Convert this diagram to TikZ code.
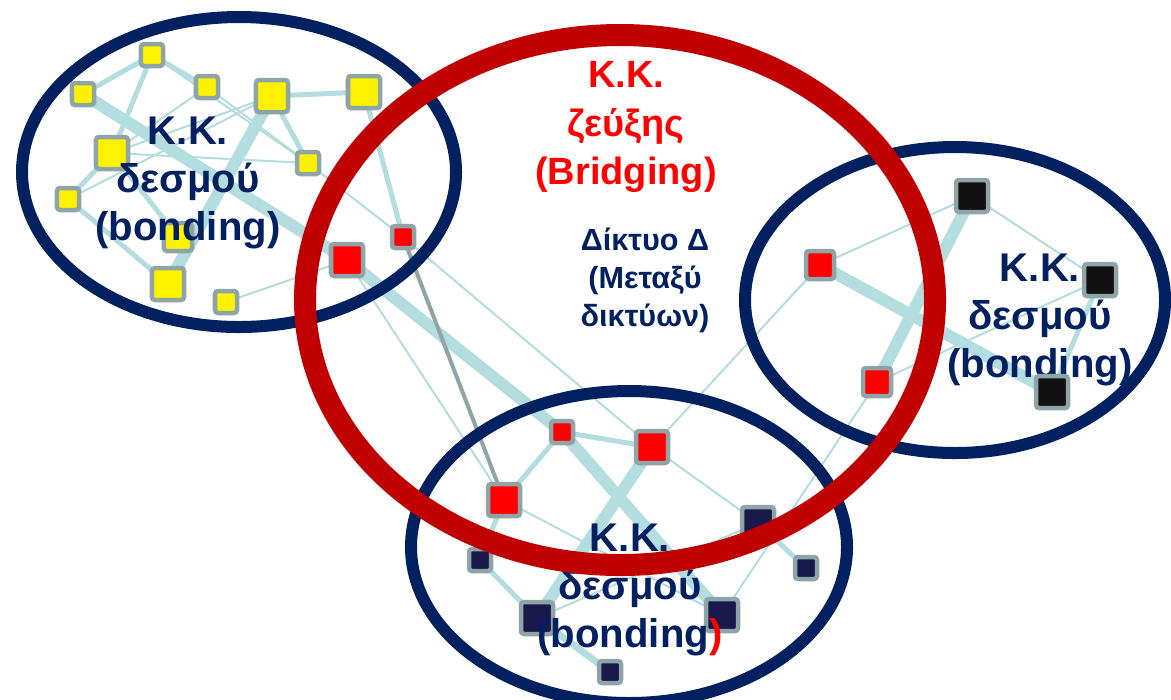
\documentclass[tikz,border=0pt]{standalone}
\usepackage{fontspec}
\setmainfont{Liberation Sans}
\pgfdeclarelayer{edges}
\pgfdeclarelayer{rings}
\pgfdeclarelayer{front}
\pgfsetlayers{edges,rings,main,front}
\definecolor{navy}{RGB}{0,32,96}
\definecolor{ringred}{RGB}{192,0,0}
\definecolor{linkblue}{RGB}{180,221,224}
\definecolor{boxgray}{RGB}{143,164,166}
\definecolor{darknavy}{RGB}{24,24,74}
\definecolor{nodeblack}{RGB}{17,17,17}

\begin{document}
\begin{tikzpicture}
        [x=0.01cm,y=-0.01cm,
         box/.style={draw=boxgray,line width=0.045cm,rounded corners=0.03cm,inner sep=0pt,minimum size=0.22cm},
         bigbox/.style={minimum size=0.32cm},
         medbox/.style={minimum size=0.28cm},
         yel/.style={box,fill=yellow},
         rd/.style={box,fill=red},
         blk/.style={box,fill=nodeblack},
         nvy/.style={box,fill=darknavy},
         wlink/.style={linkblue,line width=0.12cm},
         mlink/.style={linkblue,line width=0.05cm},
         tlink/.style={linkblue,line width=0.02cm},
         kk/.style={font=\bfseries\fontsize{11.4}{13.7}\selectfont,text=navy,align=center}]
        \useasboundingbox (0,0) rectangle (1171,699);

        % yellow group
        \node[yel] (Y1) at (152,55) {};
        \node[yel] (Y2) at (83,94) {};
        \node[yel] (Y3) at (207,87) {};
        \node[yel,bigbox] (Y4) at (272,96) {};
        \node[yel,bigbox] (Y5) at (364,92) {};
        \node[yel,bigbox] (Y6) at (112,153) {};
        \node[yel] (Y7) at (308,163) {};
        \node[yel] (Y8) at (68,199) {};
        \node[yel,medbox] (Y9) at (178,237) {};
        \node[yel,bigbox] (Y10) at (168,284) {};
        \node[yel] (Y11) at (226,302) {};

        % red (bridging) nodes
        \node[rd,bigbox] (R1) at (347,260) {};
        \node[rd] (R2) at (403,237) {};
        \node[rd] (R3) at (562,432) {};
        \node[rd,bigbox] (R4) at (652,447) {};
        \node[rd,bigbox] (R5) at (504,500) {};
        \node[rd,medbox] (R6) at (820,265) {};
        \node[rd,medbox] (R7) at (877,382) {};

        % black group
        \node[blk,bigbox] (B1) at (972,196) {};
        \node[blk,bigbox] (B2) at (1100,280) {};
        \node[blk,bigbox] (B3) at (1052,392) {};

        % navy group
        \node[nvy,bigbox] (N1) at (758,523) {};
        \node[nvy] (N2) at (806,568) {};
        \node[nvy] (N3) at (480,560) {};
        \node[nvy,bigbox] (N4) at (537,618) {};
        \node[nvy,bigbox] (N5) at (722,615) {};
        \node[nvy] (N6) at (610,672) {};

        \begin{pgfonlayer}{edges}
          \foreach \a/\b in {Y2/R1,Y4/Y10,R1/R3,R3/N5,R4/N4,R6/B3,R7/B1}
          {\draw[wlink] (\a.center) -- (\b.center);}
          \foreach \a/\b in {Y1/Y2,Y1/Y3,Y1/Y6,Y4/Y5,Y4/Y7,Y5/R2,Y6/Y8,Y8/Y10,Y6/Y9,
                             R3/R4,R3/R5,R5/N3,B2/B3,N1/N2,N3/N4}
          {\draw[mlink] (\a.center) -- (\b.center);}
          \draw[linkblue,line width=0.07cm] (N4.center) -- (N6.center);
          \foreach \a/\b in {Y1/Y7,Y3/Y7,Y3/Y6,Y4/Y6,Y4/Y8,Y6/Y7,Y7/R2,Y11/R1,R1/R5,
                             R2/R4,R4/R6,R4/N1,R5/N5,R6/B1,R7/B2,B1/B2,R7/N5,N4/N1}
          {\draw[tlink] (\a.center) -- (\b.center);}
          \draw[boxgray,line width=0.04cm] (R2.center) -- (R5.center);
        \end{pgfonlayer}

        \begin{pgfonlayer}{rings}
          \draw[navy,line width=0.12cm] (239,172) ellipse [x radius=217,y radius=155];
          \draw[navy,line width=0.12cm] (955,300) ellipse [x radius=210,y radius=153];
          \draw[navy,line width=0.12cm] (629,547) ellipse [x radius=218,y radius=156];
          \node[kk] (tr) at (1040,320) {Κ.Κ.\\δεσμού\\(bonding)};
        \end{pgfonlayer}

        \node[kk] (tl) at (188,183) {Κ.Κ.\\δεσμού\\(bonding)};
        \node[kk] (bt) at (630,590) {Κ.Κ.\\δεσμού\\(bonding\textcolor{red}{)}};
        \node[font=\bfseries\fontsize{10.8}{13.7}\selectfont,text=red,align=center] (br) at (626,127) {Κ.Κ.\\ζεύξης\\(Bridging)};
        \node[font=\bfseries\fontsize{8.7}{10.8}\selectfont,text=navy,align=center] (dd) at (645,280) {Δίκτυο Δ\\(Μεταξύ\\δικτύων)};

        \begin{pgfonlayer}{front}
          \draw[ringred,line width=0.22cm] (620,300) ellipse [x radius=315,y radius=265];
        \end{pgfonlayer}
      \end{tikzpicture}
\end{document}
